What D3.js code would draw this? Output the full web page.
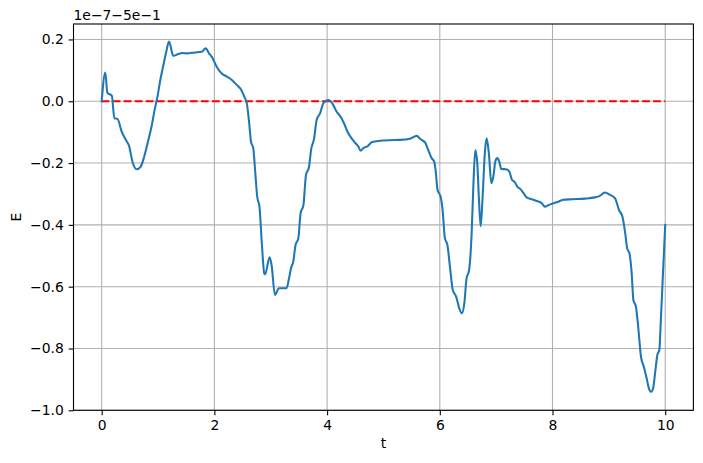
<!DOCTYPE html>
<html><head><meta charset="utf-8">
<script src="https://cdn.jsdelivr.net/npm/d3@7"></script>
<style>body{margin:0;background:#fff}svg{display:block;font-family:"DejaVu Sans",sans-serif}</style>
</head><body><svg id="c" width="703" height="463"></svg>
<script>
const tVals = [0,0.065,0.10,0.18,0.225,0.28,0.355,0.43,0.49,0.545,0.62,0.69,0.755,0.815,0.89,0.945,0.99,1.035,1.095,1.14,1.195,1.27,1.36,1.43,1.51,1.655,1.775,1.845,1.905,1.96,2.04,2.13,2.22,2.31,2.395,2.47,2.53,2.575,2.615,2.65,2.69,2.72,2.76,2.80,2.84,2.885,2.9,2.98,3.015,3.075,3.145,3.22,3.28,3.325,3.36,3.40,3.44,3.49,3.53,3.58,3.625,3.68,3.715,3.77,3.815,3.875,3.935,4.02,4.10,4.17,4.24,4.30,4.36,4.435,4.495,4.555,4.595,4.64,4.72,4.80,4.94,5.115,5.295,5.47,5.59,5.66,5.74,5.795,5.855,5.90,5.925,5.96,6.015,6.05,6.09,6.135,6.18,6.23,6.29,6.345,6.39,6.435,6.475,6.52,6.565,6.595,6.63,6.665,6.695,6.725,6.76,6.795,6.83,6.87,6.915,6.95,6.985,7.02,7.055,7.09,7.175,7.235,7.275,7.335,7.375,7.435,7.48,7.54,7.63,7.72,7.81,7.865,7.925,7.985,8.075,8.19,8.34,8.575,8.75,8.84,8.93,9.02,9.11,9.18,9.24,9.29,9.325,9.365,9.405,9.435,9.48,9.52,9.57,9.62,9.67,9.71,9.75,9.785,9.82,9.86,9.895,9.925,9.955,10.0];
const eVals = [0,0.093,0.028,0.018,-0.055,-0.057,-0.098,-0.125,-0.147,-0.195,-0.22,-0.212,-0.179,-0.136,-0.077,-0.023,0.015,0.063,0.117,0.155,0.193,0.147,0.153,0.156,0.155,0.158,0.16,0.171,0.155,0.142,0.112,0.09,0.08,0.069,0.053,0.039,0.015,-0.006,-0.066,-0.131,-0.152,-0.217,-0.309,-0.341,-0.454,-0.557,-0.56,-0.505,-0.53,-0.627,-0.605,-0.605,-0.605,-0.573,-0.54,-0.519,-0.465,-0.443,-0.362,-0.336,-0.239,-0.212,-0.158,-0.12,-0.06,-0.039,-0.006,0.004,-0.009,-0.034,-0.05,-0.071,-0.098,-0.12,-0.134,-0.147,-0.16,-0.152,-0.145,-0.132,-0.128,-0.126,-0.125,-0.121,-0.112,-0.123,-0.134,-0.158,-0.184,-0.195,-0.222,-0.287,-0.309,-0.352,-0.443,-0.465,-0.535,-0.611,-0.632,-0.67,-0.686,-0.654,-0.573,-0.546,-0.427,-0.276,-0.158,-0.2,-0.319,-0.404,-0.309,-0.179,-0.12,-0.168,-0.265,-0.244,-0.195,-0.184,-0.195,-0.219,-0.22,-0.228,-0.252,-0.263,-0.276,-0.285,-0.296,-0.311,-0.317,-0.323,-0.33,-0.341,-0.336,-0.332,-0.327,-0.319,-0.317,-0.315,-0.311,-0.306,-0.295,-0.303,-0.314,-0.352,-0.373,-0.427,-0.476,-0.492,-0.557,-0.643,-0.665,-0.729,-0.827,-0.859,-0.896,-0.929,-0.94,-0.929,-0.88,-0.821,-0.805,-0.697,-0.578,-0.4];
const refT = [0, 10];
const refE = [0, 0];
const xTicks = [0, 2, 4, 6, 8, 10];
const yTicks = [0.2, 0.0, -0.2, -0.4, -0.6, -0.8, -1.0];
const offsetText = "1e\u22127\u22125e\u22121";

const L = 73.5, R = 693.4, T = 24, B = 410.3;
const svg = d3.select("#c");
const x = d3.scaleLinear().domain([-0.5, 10.5]).range([L, R]);
const y = d3.scaleLinear().domain([-1.0, 0.25]).range([B, T]);
const fmtY = v => (v < 0 ? "\u2212" : "") + Math.abs(v).toFixed(1);

const g = svg.append("g");
g.selectAll(".gx").data(xTicks).join("line")
  .attr("x1", d => x(d)).attr("x2", d => x(d)).attr("y1", T).attr("y2", B)
  .attr("stroke", "#b0b0b0").attr("stroke-width", 1.1);
g.selectAll(".gy").data(yTicks).join("line")
  .attr("y1", d => y(d)).attr("y2", d => y(d)).attr("x1", L).attr("x2", R)
  .attr("stroke", "#b0b0b0").attr("stroke-width", 1.1);

const xAxis = d3.axisBottom(x).tickValues(xTicks).tickSize(4.86).tickPadding(4.86).tickFormat(d3.format("d"));
const yAxis = d3.axisLeft(y).tickValues(yTicks).tickSize(4.86).tickPadding(4.86).tickFormat(fmtY);
const ax = svg.append("g").attr("transform", `translate(0,${B})`).call(xAxis);
const ay = svg.append("g").attr("transform", `translate(${L},0)`).call(yAxis);
[ax, ay].forEach(a => {
  a.select(".domain").remove();
  a.selectAll("line").attr("stroke", "#000").attr("stroke-width", 1.1);
  a.selectAll("text").attr("fill", "#000").style("font-size", "13.9px").style("font-family", "DejaVu Sans");
});

svg.append("clipPath").attr("id", "clip").append("rect").attr("x", L).attr("y", T).attr("width", R - L).attr("height", B - T);
const plot = svg.append("g").attr("clip-path", "url(#clip)");

const refData = refT.map((t, i) => ({t, e: refE[i]}));
plot.append("path").datum(refData)
  .attr("d", d3.line().x(d => x(d.t)).y(d => y(d.e)))
  .attr("fill", "none").attr("stroke", "#ff0000").attr("stroke-width", 2.08)
  .attr("stroke-dasharray", "7.7,3.33");

const data = tVals.map((t, i) => ({t, e: eVals[i]}));
plot.append("path").datum(data)
  .attr("d", d3.line().curve(d3.curveMonotoneX).x(d => x(d.t)).y(d => y(d.e)))
  .attr("fill", "none").attr("stroke", "#1f77b4").attr("stroke-width", 2.08)
  .attr("stroke-linejoin", "round").attr("stroke-linecap", "square");

svg.append("rect").attr("x", L).attr("y", T).attr("width", R - L).attr("height", B - T)
  .attr("fill", "none").attr("stroke", "#000").attr("stroke-width", 1.1);

svg.append("text").attr("x", (L + R) / 2).attr("y", 448).attr("text-anchor", "middle")
  .style("font-size", "13.9px").text("t");
svg.append("text").attr("transform", `translate(21,${(T + B) / 2}) rotate(-90)`).attr("text-anchor", "middle")
  .style("font-size", "13.9px").text("E");
svg.append("text").attr("x", L).attr("y", 20).style("font-size", "13.9px").text(offsetText);
</script></body></html>
